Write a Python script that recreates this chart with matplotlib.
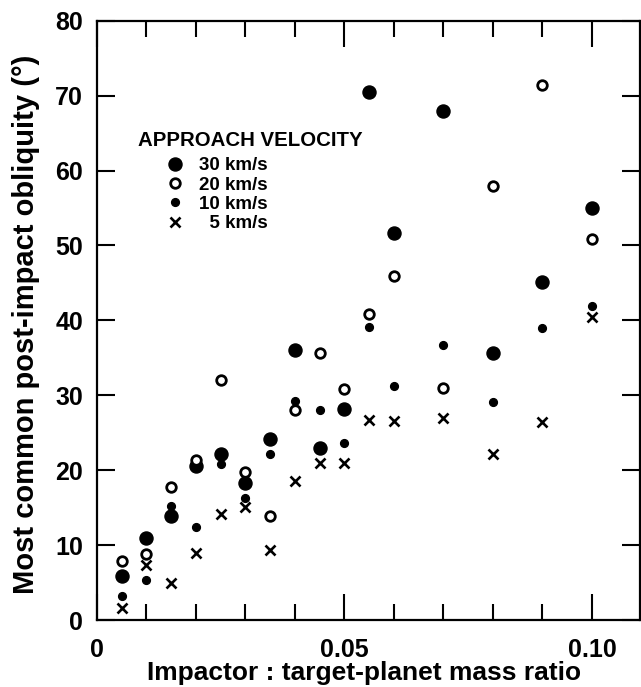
import numpy as np
import matplotlib
matplotlib.use('Agg')
import matplotlib.pyplot as plt
from matplotlib.ticker import MultipleLocator, FixedLocator

plt.rcParams['font.family'] = ['Liberation Sans', 'DejaVu Sans']
plt.rcParams['font.weight'] = 'bold'
plt.rcParams['axes.labelweight'] = 'bold'

# impactor : target mass ratio
ratio = [0.005, 0.01, 0.015, 0.02, 0.025, 0.03, 0.035, 0.04,
         0.045, 0.05, 0.055, 0.06, 0.07, 0.08, 0.09, 0.10]

# most common post-impact obliquity (deg) for each approach velocity
v30 = [5.9, 11.0, 13.9, 20.6, 22.1, 18.3, 24.2, 36.0,
       23.0, 28.2, 70.5, 51.6, 68.0, 35.6, 45.1, 55.0]
v20 = [7.9, 8.8, 17.8, 21.4, 32.1, 19.8, 13.9, 28.0,
       35.6, 30.9, 40.9, 45.9, 31.0, 57.9, 71.4, 50.9]
v10 = [3.2, 5.4, 15.2, 12.4, 20.8, 16.3, 22.2, 29.3,
       28.0, 23.6, 39.1, 31.2, 36.7, 29.1, 39.0, 41.9]
v5 = [1.6, 7.3, 5.0, 9.0, 14.1, 15.1, 9.3, 18.5,
      21.0, 21.0, 26.7, 26.6, 26.9, 22.2, 26.4, 40.5]

labels = ['30 km/s', '20 km/s', '10 km/s', '  5 km/s']

fig = plt.figure(figsize=(6.41, 6.87), dpi=100)
ax = fig.add_axes([97/641, 1 - 620/687, 543/641, 599.3/687])

h30, = ax.plot(ratio, v30, 'o', ms=9.4, color='black', mec='black', ls='none')
h20, = ax.plot(ratio, v20, 'o', ms=6.9, mfc='white', mec='black', mew=2.0, ls='none')
h10, = ax.plot(ratio, v10, 'o', ms=5.6, color='black', ls='none')
h5, = ax.plot(ratio, v5, 'x', ms=7.2, color='black', mew=1.9, ls='none')

ax.set_xlim(0, 0.1097)
ax.set_ylim(0, 80)

ax.xaxis.set_major_locator(FixedLocator([0, 0.05, 0.10]))
ax.xaxis.set_minor_locator(MultipleLocator(0.01))
ax.set_xticklabels(['0', '0.05', '0.10'])
ax.yaxis.set_major_locator(MultipleLocator(10))

ax.tick_params(which='both', direction='in', top=True, right=True, width=1.5, labelsize=18)
ax.tick_params(axis='x', which='major', length=19, pad=13)
ax.tick_params(axis='x', which='minor', length=11.5)
ax.tick_params(axis='y', which='major', length=13, pad=10)
for s in ax.spines.values():
    s.set_linewidth(1.6)

ax.set_xlabel('Impactor : target-planet mass ratio', fontsize=19)
ax.set_ylabel('Most common post-impact obliquity (\u00b0)', fontsize=21)
# label spots (pixels -> axes fraction)
ax.xaxis.set_label_coords(0.5 + (364 - 368.5)/543, -(661 - 620)/599.3)
ax.xaxis.label.set_va('top')
ax.yaxis.set_label_coords(-(97 - 40)/543, 0.5 - (324 - 320)/599.3)

# legend title and entries
ax.text((138 - 97)/543, 1 - (141 - 20.7)/599.3, 'APPROACH VELOCITY',
        transform=ax.transAxes, fontsize=14.7, va='center', ha='left')
ax.legend([h30, h20, h10, h5], labels, loc='upper left', frameon=False,
          bbox_to_anchor=((166 - 97)/543, 1 - (157 - 20.7)/599.3),
          borderaxespad=0, borderpad=0, handlelength=1.0, handletextpad=0.75,
          numpoints=1, fontsize=13.5, labelspacing=0.12)

fig.savefig('out.png', dpi=100)
plt.close()
